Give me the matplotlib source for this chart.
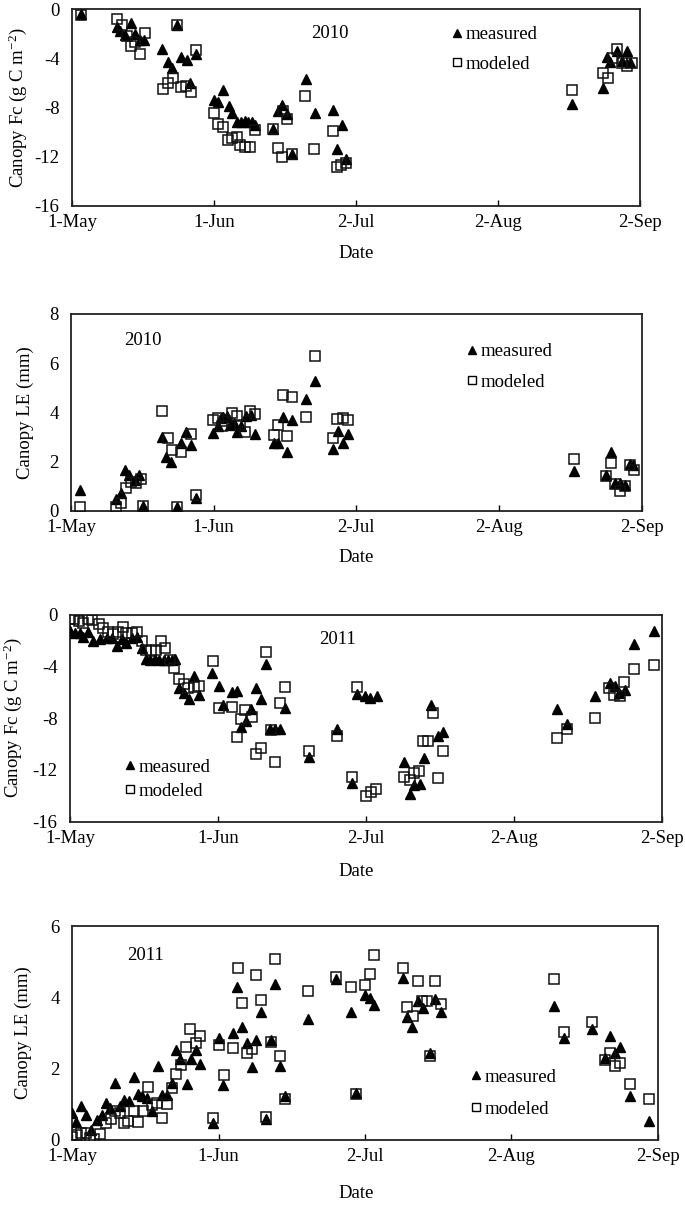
import matplotlib
matplotlib.use("Agg")
import matplotlib.pyplot as plt
from matplotlib.lines import Line2D

plt.rcParams['font.family'] = ['Liberation Serif', 'DejaVu Serif']
plt.rcParams['mathtext.fontset'] = 'custom'
plt.rcParams['mathtext.rm'] = 'Liberation Serif'
plt.rcParams['mathtext.it'] = 'Liberation Serif:italic'
plt.rcParams['axes.unicode_minus'] = False
plt.rcParams['font.size'] = 13.5

# ---------------- data (x = days since 1 May) ----------------
date_ticks = [0, 31, 62, 93, 124]
date_labels = ['1-May', '1-Jun', '2-Jul', '2-Aug', '2-Sep']

# Panel 1: 2010 canopy Fc
fc10_meas_day = [2, 9.8, 10.5, 11.6, 12.8, 13.8, 14.8, 15.7,
                 19.7, 20.9, 21.8, 22.9, 23.7, 25, 25.8, 27,
                 30.9, 31.9, 32.9, 34.2, 34.9, 36, 37, 37.8, 38.5, 39.3, 40,
                 43.8, 45, 45.8, 46.9, 48,
                 51, 53, 56.9, 57.9, 59, 59.8,
                 109.1, 115.9, 116.7, 117.5, 119, 120, 121.1, 121.8]
fc10_meas = [-0.4, -1.4, -1.8, -2.1, -1.1, -2.0, -2.5, -2.5,
             -3.2, -4.3, -4.8, -1.3, -3.9, -4.1, -6.0, -3.6,
             -7.4, -7.5, -6.6, -7.9, -8.4, -9.2, -9.2, -9.1, -9.2, -9.2, -9.4,
             -9.7, -8.3, -7.8, -8.5, -11.8,
             -5.7, -8.45, -8.2, -11.4, -9.4, -12.2,
             -7.7, -6.4, -3.9, -4.3, -3.4, -4.2, -3.4, -4.3]
fc10_mod_day = [2, 9.8, 10.9, 11.9, 12.8, 13.8, 14.8, 15.9,
                19.9, 21, 22, 22.9, 23.8, 24.9, 25.9, 27,
                30.9, 31.9, 32.9, 34, 35, 36, 36.7, 37.8, 38.9, 40,
                43.8, 45, 45.9, 46, 46.9, 48,
                50.9, 52.9, 56.9, 57.8, 58.7, 59.8,
                109.1, 115.9, 117, 118, 119, 120, 121.1, 122.2]
fc10_mod = [-0.5, -0.8, -1.3, -2.2, -3.0, -2.7, -3.6, -1.9,
            -6.5, -6.0, -5.6, -1.3, -6.3, -6.2, -6.7, -3.3,
            -8.4, -9.3, -9.6, -10.6, -10.5, -10.4, -11.0, -11.2, -11.2, -9.8,
            -9.7, -11.3, -12.0, -8.3, -8.9, -11.8,
            -7.05, -11.4, -9.9, -12.8, -12.7, -12.5,
            -6.6, -5.2, -5.55, -4.0, -3.25, -4.4, -4.6, -4.35]

# Panel 2: 2010 canopy LE
le10_meas_day = [2, 9.8, 10.8, 11.8, 12.7, 13.8, 14.8, 15.7,
                 19.8, 20.7, 21.8, 23, 24, 24.9, 26, 27.1,
                 30.9, 31.9, 32.5, 33, 34, 34.5, 35.5, 36, 37, 38.1, 39.2, 40,
                 44, 45, 46, 47, 48,
                 51.1, 53.1,
                 57, 58.1, 59.1, 60.1,
                 109.3, 116.2, 117.3, 118.2, 119.3, 120.4, 121.5, 122.2]
le10_meas = [0.85, 0.47, 0.73, 1.66, 1.46, 1.25, 1.46, 0.2,
             3.0, 2.2, 2.0, 0.16, 2.75, 3.22, 2.68, 0.5,
             3.15, 3.45, 3.75, 3.8, 3.85, 3.5, 3.55, 3.2, 3.45, 3.85, 3.9, 3.1,
             2.75, 2.75, 3.81, 2.4, 3.67,
             4.56, 5.27,
             2.52, 3.25, 2.75, 3.12,
             1.63, 1.45, 2.37, 1.12, 1.14, 1.05, 1.9, 1.86]
le10_mod_day = [2, 9.8, 10.8, 11.9, 13, 14.1, 15.2, 15.7,
                19.8, 21, 22, 23, 24, 26, 27.1,
                30.9, 31.9, 32.9, 33.5, 34.9, 36, 36.7, 37.8, 38.9, 40,
                44, 45, 46, 47, 48,
                51.1, 53.1,
                57, 57.9, 59, 60.1,
                109.3, 116.2, 117.3, 118.2, 119.3, 120.4, 121.5, 122.4]
le10_mod = [0.14, 0.14, 0.33, 0.91, 1.18, 1.12, 1.28, 0.2,
            4.04, 2.95, 2.48, 0.16, 2.4, 3.13, 0.64,
            3.67, 3.77, 3.43, 3.63, 3.97, 3.84, 3.5, 3.22, 4.04, 3.93,
            3.09, 3.47, 4.72, 3.02, 4.61,
            3.81, 6.31,
            2.95, 3.74, 3.77, 3.67,
            2.1, 1.4, 1.96, 1.1, 0.8, 1.0, 1.85, 1.66]

# Panel 3: 2011 canopy Fc
fc11_meas_day = [0, 1, 2.1, 2.8, 3.8, 4.9, 6.3, 7.7, 8.7, 9.8, 10.9, 11.7, 12.9, 14, 15,
                 15.9, 16.8, 17.8, 18.7, 19.6, 20.5, 21.3, 22,
                 22.9, 23.9, 24.9, 26, 27.1,
                 29.7, 31.1, 32.1, 34, 35, 35.7, 36.9, 37.9, 39, 40, 41, 41.9, 43, 44, 45.1,
                 50, 56, 59, 60, 61.8, 62.9, 64.2,
                 70, 71.1, 72.1, 73.2, 74.1, 75.5, 77, 78.1,
                 102, 104.1, 110, 113, 114, 115, 116.1, 118.1, 122.2]
fc11_meas = [-1.24, -1.4, -1.45, -1.7, -1.3, -2.0, -1.85, -1.8, -1.8, -2.4, -1.85, -2.2, -1.8, -1.75, -2.6,
             -3.4, -3.5, -3.4, -3.5, -3.5, -3.5, -3.5, -3.4,
             -5.65, -6.07, -6.5, -4.77, -6.17,
             -4.5, -5.5, -7.0, -6.0, -5.9, -8.7, -8.2, -7.3, -5.65, -6.5, -3.8, -8.8, -8.8, -8.8, -7.2,
             -11.0, -8.8, -13.0, -6.1, -6.25, -6.4, -6.25,
             -11.4, -13.85, -13.2, -13.1, -11.05, -7.0, -9.35, -9.1,
             -7.3, -8.45, -6.3, -5.3, -5.5, -6.07, -5.8, -2.23, -1.24]
fc11_mod_day = [0, 0.9, 1.9, 2.8, 3.7, 4.6, 6, 7, 8, 9.1, 10.1, 11, 11.7, 12.9, 14,
                15, 16, 16.9, 17.9, 19, 19.9, 20.9, 21.8, 22.9, 23.8, 24.8, 26, 27.1,
                30, 31.1, 34, 35, 35.8, 36.7, 38, 39, 40, 41, 42, 43, 44, 45.1,
                50, 56, 59, 60, 62, 63, 64,
                70, 71.1, 72, 73, 74, 75, 76, 77, 78.1,
                102, 104.1, 110, 112.9, 113.9, 115.2, 116, 118.1, 122.2]
fc11_mod = [-0.36, -0.36, -0.5, -0.65, -0.3, -0.4, -0.7, -1.06, -1.3, -1.5, -1.3, -0.93, -1.45, -1.4, -1.3,
            -2.0, -2.75, -2.8, -2.7, -2.0, -2.6, -3.5, -4.1, -4.95, -5.35, -5.65, -5.55, -5.5,
            -3.6, -7.2, -7.1, -9.45, -8.07, -7.4, -7.9, -10.8, -10.3, -2.9, -8.9, -11.4, -6.8, -5.55,
            -10.5, -9.4, -12.55, -5.55, -14.0, -13.7, -13.5,
            -12.55, -12.8, -12.2, -12.1, -9.8, -9.8, -7.6, -12.6, -10.5,
            -9.5, -8.85, -8.0, -5.65, -6.17, -6.25, -5.2, -4.23, -3.9]

# Panel 4: 2011 canopy LE
le11_meas_day = [0, 0.8, 1.9, 2.9, 4, 5.2, 6.3, 7.2, 8, 9.1, 10, 11, 12.1, 13, 13.9, 14.8,
                 15.8, 16.9, 18.1, 19, 20.1, 21.1, 22, 22.9, 24.2, 25.1, 26.1, 27.1,
                 29.9, 31, 32, 34, 34.9,
                 36, 37.1, 38.1, 39, 40, 41.1, 42.1, 43, 44.1, 45.1,
                 50, 55.9, 59, 60, 62.1, 63.1, 64,
                 70.1, 70.9, 72, 73.2, 74.3, 75.8, 76.9, 78.1,
                 102, 104.1, 110.1, 112.9, 114, 115, 116, 118.1, 122.1]
le11_meas = [0.77, 0.51, 0.94, 0.70, 0.28, 0.56, 0.70, 1.03, 0.89, 1.61, 0.94, 1.12, 1.08, 1.76, 1.29, 1.24,
             1.17, 0.80, 2.08, 1.26, 1.26, 1.59, 2.53, 2.27, 1.57, 2.27, 2.53, 2.13,
             0.47, 2.86, 1.55, 3.01, 4.29,
             3.18, 2.72, 2.04, 2.81, 3.6, 0.58, 2.81, 4.38, 2.08, 1.22,
             3.39, 4.51, 3.6, 1.33, 4.07, 3.98, 3.79,
             4.54, 3.45, 3.17, 3.91, 3.7, 2.45, 3.95, 3.58,
             3.76, 2.86, 3.12, 2.31, 2.92, 2.43, 2.6, 1.22, 0.54]
le11_mod_day = [0, 1, 1.8, 2.8, 3.8, 4.7, 5.8, 7.2, 8.2, 9.1, 10, 11, 11.9, 13, 14, 15,
                16, 16.9, 17.9, 19.1, 20.1, 21.1, 22, 23, 24, 25, 26.1, 27.1,
                29.9, 31, 32.2, 34,
                35, 36, 37.1, 38.1, 39, 40, 41.1, 42.1, 43, 44.1, 45.1,
                50, 55.9, 59, 60, 62.1, 63.1, 64,
                70.1, 71, 72.2, 73.2, 74.1, 75.2, 75.8, 76.9, 78.1,
                102, 104.1, 110.1, 112.9, 114, 114.9, 116.1, 118.1, 122.1]
le11_mod = [0.09, 0.14, 0.21, 0.21, 0.05, 0.02, 0.17, 0.49, 0.58, 0.8, 0.75, 0.49, 0.54, 0.8, 0.51, 0.8,
            1.48, 0.98, 1.03, 0.61, 1.01, 1.45, 1.85, 2.1, 2.62, 3.1, 2.72, 2.92,
            0.61, 2.67, 1.83, 2.58,
            4.82, 3.84, 2.43, 2.55, 4.63, 3.93, 0.65, 2.76, 5.08, 2.36, 1.14,
            4.17, 4.57, 4.29, 1.29, 4.35, 4.66, 5.2,
            4.82, 3.74, 3.48, 4.47, 3.89, 3.89, 2.36, 4.45, 3.82,
            4.51, 3.02, 3.3, 2.25, 2.45, 2.08, 2.15, 1.57, 1.14]

for a, b in [(fc10_meas_day, fc10_meas), (fc10_mod_day, fc10_mod),
             (le10_meas_day, le10_meas), (le10_mod_day, le10_mod),
             (fc11_meas_day, fc11_meas), (fc11_mod_day, fc11_mod),
             (le11_meas_day, le11_meas), (le11_mod_day, le11_mod)]:
    assert len(a) == len(b), (len(a), len(b))

# ---------------- layout (pixel based) ----------------
W, H = 685, 1206
fig = plt.figure(figsize=(W / 100, H / 100), dpi=100)


def rect(l, t, r, b):
    return [l / W, 1 - b / H, (r - l) / W, (b - t) / H]


def fxy(x, y):
    return (x / W, 1 - y / H)


panels = [
    dict(rect=(72, 9.3, 640, 206), md=fc10_meas_day, mv=fc10_meas, sd=fc10_mod_day, sv=fc10_mod,
         ylim=(-16, 0), yticks=[-16, -12, -8, -4, 0], ylabel='Canopy Fc (g C m$^{-2}$)',
         year='2010', year_xy=(330, 33), ylab_x=18, xlab_y=253,
         leg=(456.7, 33, 29)),
    dict(rect=(71, 314, 641.7, 510.7), md=le10_meas_day, mv=le10_meas, sd=le10_mod_day, sv=le10_mod,
         ylim=(0, 8), yticks=[0, 2, 4, 6, 8], ylabel='Canopy LE (mm)',
         year='2010', year_xy=(143, 340.7), ylab_x=25, xlab_y=557,
         leg=(471.7, 350, 30)),
    dict(rect=(70, 614.7, 662.3, 821.7), md=fc11_meas_day, mv=fc11_meas, sd=fc11_mod_day, sv=fc11_mod,
         ylim=(-16, 0), yticks=[-16, -12, -8, -4, 0], ylabel='Canopy Fc (g C m$^{-2}$)',
         year='2011', year_xy=(338, 639.3), ylab_x=13, xlab_y=871,
         leg=(130, 765.7, 23.3)),
    dict(rect=(72.3, 926, 657.7, 1140), md=le11_meas_day, mv=le11_meas, sd=le11_mod_day, sv=le11_mod,
         ylim=(0, 6), yticks=[0, 2, 4, 6], ylabel='Canopy LE (mm)',
         year='2011', year_xy=(145, 955), ylab_x=23, xlab_y=1193,
         leg=(475.7, 1075.7, 31.6)),
]

FS = 13.5
for p in panels:
    ax = fig.add_axes(rect(*p['rect']))
    ax.plot(p['md'], p['mv'], linestyle='none', marker='^', ms=7.5,
            color='black', mec='black', zorder=3)
    ax.plot(p['sd'], p['sv'], linestyle='none', marker='s', ms=6.8,
            mfc='none', mec='#111111', mew=1.1, zorder=4)
    ax.set_xlim(0, 124)
    ax.set_ylim(*p['ylim'])
    ax.set_xticks(date_ticks)
    ax.set_xticklabels(date_labels)
    ax.set_yticks(p['yticks'])
    ax.set_yticklabels([str(v) for v in p['yticks']])
    ax.tick_params(axis='x', direction='in', length=4, width=1, pad=6, labelsize=FS)
    ax.tick_params(axis='y', length=0, pad=9, labelsize=FS)
    for s in ax.spines.values():
        s.set_linewidth(1.3)
        s.set_color('#222222')
    ax.set_xlabel('Date', fontsize=FS, va='center')
    ax.xaxis.set_label_coords(*fxy(356, p['xlab_y']), transform=fig.transFigure)
    ax.set_ylabel(p['ylabel'], fontsize=FS, va='center')
    cy = (p['rect'][1] + p['rect'][3]) / 2
    ax.yaxis.set_label_coords(*fxy(p['ylab_x'], cy), transform=fig.transFigure)
    fig.text(*fxy(*p['year_xy']), p['year'], fontsize=FS, ha='center', va='center')

    mx, my, dy = p['leg']
    handles = [Line2D([], [], linestyle='none', marker='^', ms=5.5, color='black'),
               Line2D([], [], linestyle='none', marker='s', ms=5.5, mfc='none',
                      mec='black', mew=1.0)]
    lab_sp = (dy - 16.5) / 18.75
    ax.legend(handles, ['measured', 'modeled'], loc='upper left', frameon=False,
              fontsize=FS, handlelength=0.6, handletextpad=0.15, borderpad=0,
              borderaxespad=0, labelspacing=lab_sp,
              bbox_to_anchor=fxy(mx - 5.6, my - 7), bbox_transform=fig.transFigure)

fig.savefig('out.png', dpi=100)
